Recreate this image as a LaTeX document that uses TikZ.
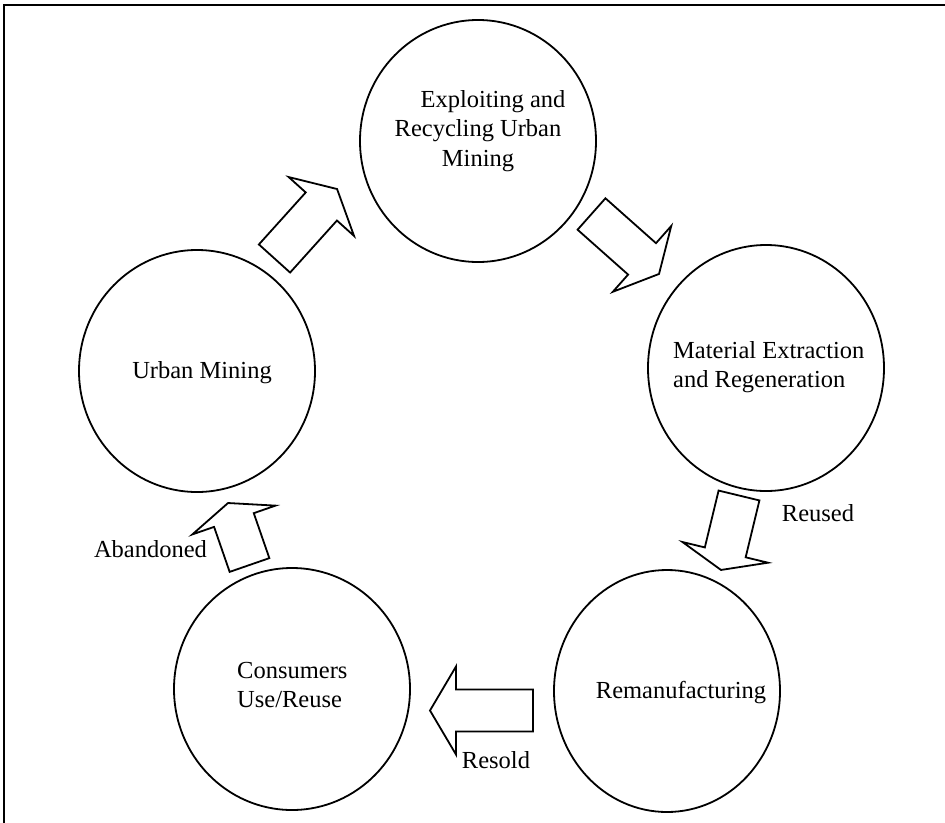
\documentclass[tikz,border=0pt]{standalone}
\usepackage{fontspec}
\setmainfont{Liberation Serif}
\usetikzlibrary{shapes.geometric}
\tikzset{stage/.style = {shape=ellipse,draw,line width=1.8pt,inner sep=0pt,minimum width=236pt,minimum height=242pt}}
\tikzset{blockarrow/.style = {draw,line width=1.8pt,line join=miter}}
\tikzset{tag/.style = {inner sep=0pt}}
% block arrow: x, y of tail middle, angle, shaft length, total length
\newcommand{\bigarrow}[5]{%
  \draw[blockarrow, shift={(#1,#2)}, rotate=#3]
    (0,-21) -- (#4,-21) -- (#4,-44) -- (#5,0) -- (#4,44) -- (#4,21) -- (0,21) -- cycle;}
\begin{document}
\begin{tikzpicture}[x=1pt,y=-1pt,font=\fontsize{24.5}{29.5}\selectfont]
                    \useasboundingbox (0,0) rectangle (945,822);
                    \draw[line width=1.8pt] (4,840) -- (4,5) -- (960,5);

                    \node[stage] (expl)  at (478,141) {};
                    \node[stage, minimum height=246pt] (extr) at (766,368) {};
                    \node[stage, minimum width=226pt] (reman) at (667,691) {};
                    \node[stage] (cons)  at (292,689) {};
                    \node[stage] (urban) at (197,371) {};

                    \node[tag, anchor=north, align=center] (explt) at (478,90)
                      {\hspace*{30pt}Exploiting and\\Recycling Urban\\Mining};
                    \node[tag, anchor=north west, align=left] (extrt) at (673,341)
                      {Material Extraction\\and Regeneration};
                    \node[tag, anchor=base] (remant) at (681,698) {Remanufacturing};
                    \node[tag, anchor=north west, align=left] (const) at (237,662)
                      {Consumers\\Use/Reuse};
                    \node[tag, anchor=base] (urbant) at (202,378) {Urban Mining};

                    \bigarrow{274.5}{258.5}{48}{70}{93.5}
                    \bigarrow{591.5}{214}{-41.6}{67.6}{90.3}
                    \bigarrow{739}{495.5}{-103.6}{58.5}{76.6}
                    \bigarrow{533}{710.5}{180}{77}{103}
                    \bigarrow{249.5}{565}{109.1}{47.6}{65.6}

                    \node[tag, anchor=base] (reused) at (818,521) {Reused};
                    \node[tag, anchor=base] (resold) at (496,768) {Resold};
                    \node[tag, anchor=base] (aband)  at (150.5,557) {Abandoned};
                  \end{tikzpicture}
\end{document}
